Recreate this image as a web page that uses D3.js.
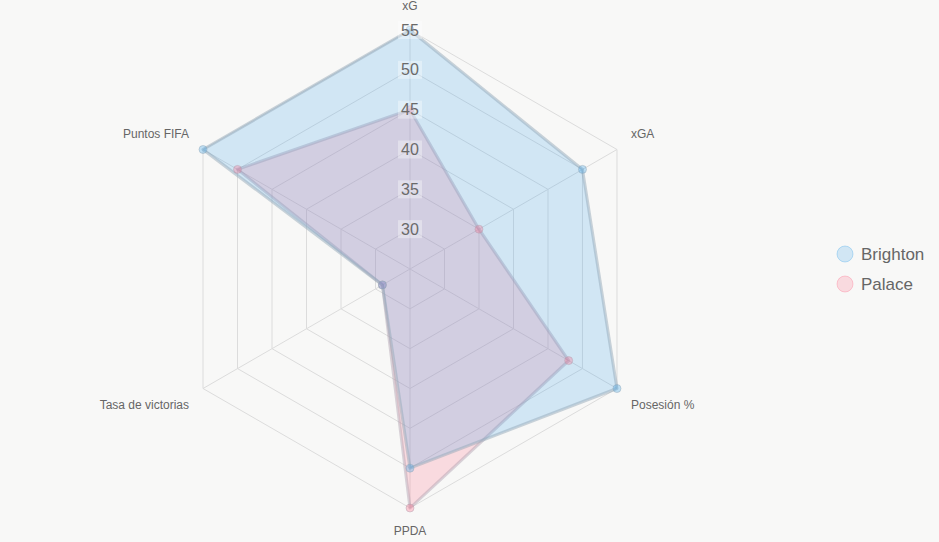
<!DOCTYPE html>
<html>
<head>
<script src="https://d3js.org/d3.v7.min.js"></script>
<style>
  body { margin: 0; background: #f8f8f7; }
  svg { display: block; font-family: "Liberation Sans", Arial, sans-serif; }
</style>
</head>
<body>
<script>
const axesLabels = ['xG', 'xGA', 'Posesión %', 'PPDA', 'Tasa de victorias', 'Puntos FIFA']
const brighton = [55, 50, 55, 50, 29, 55]
const palace = [45, 35, 48, 55, 29, 50]
const ticks = [30, 35, 40, 45, 50, 55]
const seriesNames = ['Brighton', 'Palace']

const w = 939, h = 542
const cx = 410, cy = 269, R = 239

const svg = d3.select('body').append('svg').attr('width', w).attr('height', h)
svg.append('rect').attr('width', w).attr('height', h).attr('fill', '#f8f8f7')

const r = d3.scaleLinear().domain([25, 55]).range([0, R])
const angle = d3.scaleLinear().domain([0, axesLabels.length]).range([0, 2 * Math.PI])
const pt = (i, v) => [cx + r(v) * Math.sin(angle(i)), cy - r(v) * Math.cos(angle(i))]

// grid rings
ticks.forEach(t => {
  svg.append('polygon')
    .attr('points', axesLabels.map((_, i) => pt(i, t).join(',')).join(' '))
    .attr('fill', 'none').attr('stroke', '#dcdcdc').attr('stroke-width', 1)
})
// spokes
axesLabels.forEach((_, i) => {
  const p = pt(i, 55)
  svg.append('line').attr('x1', cx).attr('y1', cy).attr('x2', p[0]).attr('y2', p[1])
    .attr('stroke', '#dcdcdc').attr('stroke-width', 1)
})

const series = [
  {name: 'Brighton', values: brighton, fill: 'rgba(54,162,235,0.2)', stroke: 'rgba(150,170,185,0.5)', dot: 'rgba(54,162,235,0.3)'},
  {name: 'Palace', values: palace, fill: 'rgba(255,99,132,0.2)', stroke: 'rgba(175,160,175,0.45)', dot: 'rgba(255,99,132,0.3)'}
]

// Palace underneath, Brighton on top
const drawOrder = [series[1], series[0]]
drawOrder.forEach(s => {
  const line = d3.line().curve(d3.curveLinearClosed)
  svg.append('path')
    .attr('d', line(s.values.map((v, i) => pt(i, v))))
    .attr('fill', s.fill).attr('stroke', s.stroke).attr('stroke-width', 3)
    .attr('stroke-linejoin', 'round')
})
drawOrder.forEach(s => {
  s.values.forEach((v, i) => {
    const p = pt(i, v)
    svg.append('circle').attr('cx', p[0]).attr('cy', p[1]).attr('r', 4)
      .attr('fill', s.dot).attr('stroke', s.stroke).attr('stroke-width', 1)
  })
})

// tick labels with backdrop
ticks.forEach(t => {
  const y = cy - r(t)
  svg.append('rect').attr('x', cx - 12).attr('y', y - 9).attr('width', 24).attr('height', 18)
    .attr('fill', 'rgba(255,255,255,0.35)')
  svg.append('text').attr('x', cx).attr('y', y).attr('text-anchor', 'middle')
    .attr('dominant-baseline', 'central').attr('font-size', 16).attr('fill', '#6a6a6a').text(t)
})

// point labels
axesLabels.forEach((lab, i) => {
  const a = angle(i)
  const s = Math.sin(a), c = Math.cos(a)
  const anchor = Math.abs(s) < 0.01 ? 'middle' : (s > 0 ? 'start' : 'end')
  let x, y
  if (anchor === 'middle') {
    x = cx
    y = cy - R * c + (c > 0 ? -24 : 23)
  } else {
    x = cx + R * s + (s > 0 ? 14 : -14)
    y = cy - R * c + (c > 0 ? -16 : 16)
  }
  svg.append('text').attr('x', x).attr('y', y).attr('text-anchor', anchor)
    .attr('dominant-baseline', 'central').attr('font-size', 12).attr('fill', '#666').text(lab)
})

// legend
const legend = svg.append('g').attr('transform', 'translate(845,254)')
series.forEach((s, i) => {
  const g = legend.append('g').attr('transform', 'translate(0,' + (i * 30) + ')')
  g.append('circle').attr('r', 8).attr('fill', s.fill).attr('stroke', s.fill.replace('0.2', '0.3'))
  g.append('text').attr('x', 16).attr('y', 0).attr('dominant-baseline', 'central')
    .attr('font-size', 17).attr('fill', '#666').text(seriesNames[i])
})
</script>
</body>
</html>
